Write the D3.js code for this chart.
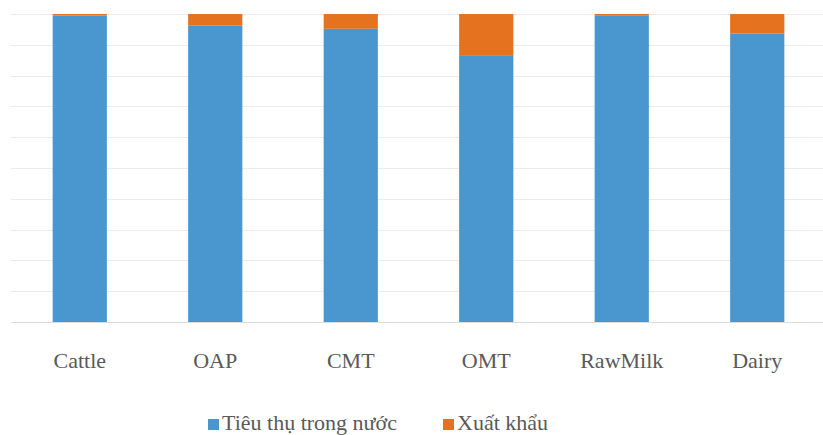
<!DOCTYPE html>
<html lang="vi">
<head>
<meta charset="utf-8">
<script src="https://cdn.jsdelivr.net/npm/d3@7"></script>
<style>
  body { margin: 0; background: #fff; }
  text { font-family: "Liberation Serif", "Times New Roman", Tinos, serif; }
</style>
</head>
<body>
<div id="chart"></div>
<script>
// Data (percent shares)
var categories = ['Cattle', 'OAP', 'CMT', 'OMT', 'RawMilk', 'Dairy'];
var domestic   = [99.5, 96.2, 95.2, 86.4, 99.6, 93.7];
var exported   = [0.5, 3.8, 4.8, 13.6, 0.4, 6.3];
// "Tiêu thụ trong nước", "Xuất khẩu" (precomposed characters)
var series_names = ['Ti\u00eau th\u1ee5 trong n\u01b0\u1edbc', 'Xu\u1ea5t kh\u1ea9u'];
var y_ticks = [0, 10, 20, 30, 40, 50, 60, 70, 80, 90, 100];

var chart_width  = 823;
var chart_height = 435;
var colors = ['#4a96cf', '#e4721f'];

var svg = d3.select('#chart')
    .append('svg')
    .attr('width', chart_width)
    .attr('height', chart_height);

var x = d3.scaleBand()
    .domain(categories)
    .range([12, 825])
    .paddingInner(0.6)
    .paddingOuter(0.3);

var y = d3.scaleLinear()
    .domain([0, 100])
    .range([322, 14]);

// grid lines
svg.append('g')
    .selectAll('line')
    .data(y_ticks)
    .enter()
    .append('line')
    .attr('x1', 11)
    .attr('x2', chart_width)
    .attr('y1', function(d){ return Math.round(y(d)) + 0.5; })
    .attr('y2', function(d){ return Math.round(y(d)) + 0.5; })
    .attr('stroke', function(d){ return d === 0 ? '#dcdcdc' : '#ebebeb'; })
    .attr('stroke-width', 1.2);

var rows = categories.map(function(c, i){
    return { cat: c, domestic: domestic[i], exported: exported[i] };
});
var stack = d3.stack().keys(['domestic', 'exported']);
var layers = stack(rows);

svg.append('g')
    .selectAll('g')
    .data(layers)
    .enter()
    .append('g')
    .attr('fill', function(d, i){ return colors[i]; })
    .selectAll('rect')
    .data(function(d){ return d; })
    .enter()
    .append('rect')
    .attr('x', function(d){ return x(d.data.cat); })
    .attr('width', x.bandwidth())
    .attr('y', function(d){ return y(d[1]); })
    .attr('height', function(d){ return y(d[0]) - y(d[1]); });

// category labels
svg.append('g')
    .selectAll('text')
    .data(categories)
    .enter()
    .append('text')
    .attr('x', function(d){ return x(d) + x.bandwidth() / 2; })
    .attr('y', 368)
    .attr('text-anchor', 'middle')
    .style('font-size', '22px')
    .attr('fill', '#595959')
    .text(function(d){ return d; });

// legend
var legend_x = [208, 443];
var legend = svg.append('g');

legend.selectAll('rect')
    .data(series_names)
    .enter()
    .append('rect')
    .attr('x', function(d, i){ return legend_x[i]; })
    .attr('y', 419)
    .attr('width', 11)
    .attr('height', 11)
    .attr('fill', function(d, i){ return colors[i]; });

legend.selectAll('text')
    .data(series_names)
    .enter()
    .append('text')
    .attr('x', function(d, i){ return legend_x[i] + 14; })
    .attr('y', 430)
    .style('font-size', '22px')
    .attr('fill', '#595959')
    .text(function(d){ return d; });
</script>
</body>
</html>
